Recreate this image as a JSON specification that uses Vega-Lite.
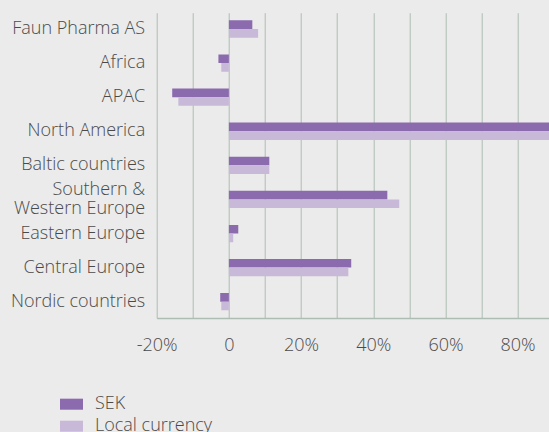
{
  "$schema": "https://vega.github.io/schema/vega-lite/v6.json",
  "width": 392.3,
  "height": 305.3,
  "autosize": "none",
  "padding": {"left": 156.7, "top": 12.7, "right": 0, "bottom": 114},
  "background": "#ebebeb",
  "config": {"view": {"stroke": null}, "font": "Open Sans"},
  "data": {
    "values": [
      {"region": "Faun Pharma AS", "series": "SEK", "value": 0.065},
      {"region": "Faun Pharma AS", "series": "Local currency", "value": 0.081},
      {"region": "Africa", "series": "SEK", "value": -0.029},
      {"region": "Africa", "series": "Local currency", "value": -0.021},
      {"region": "APAC", "series": "SEK", "value": -0.157},
      {"region": "APAC", "series": "Local currency", "value": -0.14},
      {"region": "North America", "series": "SEK", "value": 0.95},
      {"region": "North America", "series": "Local currency", "value": 0.93},
      {"region": "Baltic countries", "series": "SEK", "value": 0.112},
      {"region": "Baltic countries", "series": "Local currency", "value": 0.112},
      {"region": "Southern & Western Europe", "series": "SEK", "value": 0.439},
      {"region": "Southern & Western Europe", "series": "Local currency", "value": 0.472},
      {"region": "Eastern Europe", "series": "SEK", "value": 0.026},
      {"region": "Eastern Europe", "series": "Local currency", "value": 0.012},
      {"region": "Central Europe", "series": "SEK", "value": 0.339},
      {"region": "Central Europe", "series": "Local currency", "value": 0.331},
      {"region": "Nordic countries", "series": "SEK", "value": -0.024},
      {"region": "Nordic countries", "series": "Local currency", "value": -0.021}
    ]
  },
  "mark": {"type": "bar", "clip": true},
  "encoding": {
    "y": {
      "field": "region",
      "type": "nominal",
      "sort": ["Faun Pharma AS", "Africa", "APAC", "North America", "Baltic countries", "Southern & Western Europe", "Eastern Europe", "Central Europe", "Nordic countries"],
      "scale": {"paddingInner": 0.493, "paddingOuter": 0.2245},
      "axis": {
        "title": null,
        "domain": false,
        "ticks": false,
        "grid": false,
        "labelFont": "Open Sans",
        "labelFontWeight": 300,
        "labelFontSize": 18,
        "labelColor": "#4a4a4a",
        "labelPadding": 12,
        "labelLineHeight": 18.6,
        "labelOffset": {"condition": {"test": "datum.value == 'Southern & Western Europe'", "value": -9}, "value": 0},
        "labelExpr": "datum.value == 'Southern & Western Europe' ? ['Southern &', 'Western Europe'] : datum.value"
      }
    },
    "yOffset": {"field": "series", "sort": ["SEK", "Local currency"]},
    "x": {
      "field": "value",
      "type": "quantitative",
      "scale": {"domain": [-0.2, 0.887], "nice": false, "zero": false},
      "axis": {
        "title": null,
        "values": [-0.2, -0.1, 0, 0.1, 0.2, 0.3, 0.4, 0.5, 0.6, 0.7, 0.8],
        "grid": true,
        "gridColor": "#adbdb3",
        "gridWidth": 1,
        "domainColor": "#adbdb3",
        "domainWidth": 1.5,
        "ticks": false,
        "labelFlush": false,
        "labelOverlap": false,
        "labelFont": "Open Sans",
        "labelFontWeight": 300,
        "labelFontSize": 18,
        "labelColor": "#4a4a4a",
        "labelPadding": 18,
        "labelExpr": "round(datum.value * 100) % 20 != 0 ? '' : (round(datum.value * 100) == 0 ? '0' : round(datum.value * 100) + '%')"
      }
    },
    "color": {
      "field": "series",
      "type": "nominal",
      "scale": {"domain": ["SEK", "Local currency"], "range": ["#8b6aad", "#c8b9d8"]},
      "legend": {
        "title": null,
        "orient": "none",
        "legendX": -96.7,
        "legendY": 380,
        "padding": 0,
        "symbolType": "M-1,-0.48H1V0.48H-1Z",
        "symbolSize": 529,
        "symbolStrokeWidth": 0,
        "labelFont": "Open Sans",
        "labelFontWeight": 300,
        "labelFontSize": 18,
        "labelColor": "#4a4a4a",
        "labelOffset": 12,
        "rowPadding": 1
      }
    }
  }
}
